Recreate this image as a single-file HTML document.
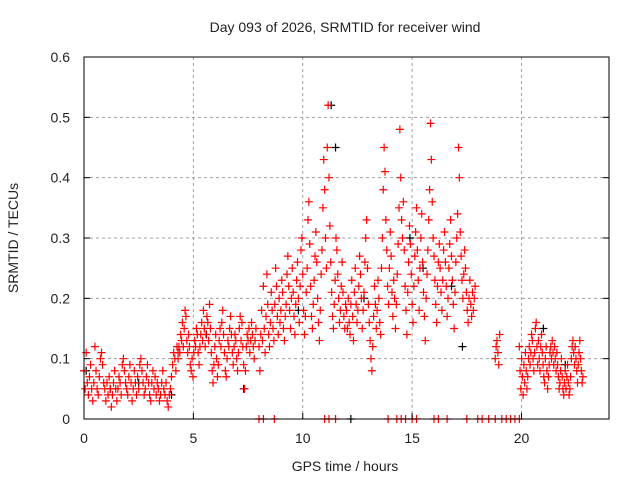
<!DOCTYPE html>
<html><head><meta charset="utf-8"><style>
body{margin:0;background:#fff;}
svg{display:block;font-family:"Liberation Sans",sans-serif;}
</style></head><body>
<svg id="chart" width="640" height="480">
<text x="345" y="32" text-anchor="middle" font-size="14" fill="#222">Day 093 of 2026, SRMTID for receiver wind</text>
<text x="345" y="471" text-anchor="middle" font-size="14" fill="#222">GPS time / hours</text>
<text transform="translate(18,238) rotate(-90)" text-anchor="middle" font-size="14" fill="#222">SRMTID / TECUs</text>
<g id="grid"></g><g id="marks"></g><g id="axes"></g>
</svg>
<script>
const xTicks=[0,5,10,15,20];
const yTicks=[0,0.1,0.2,0.3,0.4,0.5,0.6];
const yTickLabels=["0","0.1","0.2","0.3","0.4","0.5","0.6"];
const segStart=[0,4.3,8.0,9.8,12.0,13.6,18.8,19.9];
const segStep=[0.05,0.04,0.04,0.04,0.04,0.04,0.04,0.035];
const segA=[0.08,0.05,0.11,0.06,0.04,0.07,0.09,0.05,0.03,0.06,0.12,0.08,0.05,0.04,0.07,0.10,0.11,0.09,0.06,0.05,0.03,0.06,0.04,0.07,0.05,0.02,0.04,0.06,0.08,0.05,0.03,0.05,0.07,0.06,0.04,0.09,0.10,0.08,0.06,0.05,0.04,0.07,0.09,0.06,0.03,0.05,0.08,0.06,0.04,0.07,0.05,0.09,0.10,0.08,0.06,0.04,0.05,0.07,0.09,0.06,0.04,0.03,0.06,0.08,0.05,0.07,0.04,0.06,0.05,0.03,0.04,0.06,0.08,0.05,0.04,0.06,0.03,0.02,0.04,0.05,0.07,0.09,0.11,0.10,0.08,0.12,0.11];
const segB=[0.10,0.12,0.11,0.14,0.13,0.16,0.12,0.15,0.18,0.17,0.13,0.11,0.14,0.12,0.09,0.08,0.10,0.07,0.11,0.13,0.12,0.15,0.14,0.11,0.09,0.12,0.14,0.16,0.13,0.18,0.15,0.12,0.14,0.17,0.16,0.13,0.19,0.15,0.11,0.08,0.06,0.09,0.12,0.14,0.10,0.07,0.09,0.13,0.15,0.12,0.16,0.18,0.14,0.11,0.08,0.07,0.10,0.13,0.12,0.15,0.17,0.14,0.11,0.09,0.12,0.14,0.13,0.10,0.08,0.11,0.15,0.17,0.13,0.16,0.12,0.09,0.05,0.08,0.12,0.14,0.13,0.15,0.11,0.13,0.16,0.14,0.12,0.10,0.13,0.15];
const segC=[0.12,0.08,0.14,0.18,0.13,0.22,0.15,0.11,0.17,0.24,0.19,0.14,0.12,0.16,0.21,0.18,0.15,0.13,0.19,0.25,0.22,0.17,0.14,0.20,0.16,0.18,0.23,0.21,0.15,0.13,0.17,0.19,0.24,0.27,0.22,0.18,0.15,0.20,0.25,0.21,0.17,0.14,0.19,0.23,0.26];
const segD=[0.20,0.16,0.22,0.28,0.30,0.24,0.18,0.14,0.17,0.21,0.25,0.33,0.36,0.29,0.22,0.17,0.15,0.19,0.23,0.27,0.31,0.26,0.20,0.16,0.13,0.18,0.24,0.28,0.35,0.43,0.38,0.30,0.25,0.45,0.52,0.40,0.32,0.26,0.21,0.17,0.15,0.19,0.23,0.30,0.28,0.24,0.20,0.16,0.18,0.22,0.26,0.21,0.17,0.15,0.19];
const segE=[0.18,0.15,0.20,0.16,0.14,0.19,0.23,0.17,0.13,0.21,0.25,0.19,0.16,0.18,0.22,0.27,0.24,0.20,0.15,0.18,0.21,0.26,0.30,0.33,0.25,0.19,0.16,0.13,0.10,0.08,0.12,0.17,0.22,0.19,0.15,0.18,0.23,0.20,0.16,0.14];
const segF=[0.25,0.30,0.38,0.45,0.41,0.33,0.28,0.22,0.19,0.25,0.31,0.27,0.21,0.17,0.23,0.20,0.15,0.19,0.24,0.29,0.35,0.48,0.40,0.33,0.30,0.36,0.28,0.22,0.18,0.14,0.21,0.26,0.32,0.29,0.24,0.19,0.16,0.22,0.27,0.31,0.35,0.28,0.23,0.18,0.25,0.30,0.34,0.26,0.21,0.17,0.13,0.20,0.24,0.28,0.33,0.38,0.49,0.43,0.36,0.30,0.27,0.23,0.19,0.16,0.22,0.26,0.29,0.25,0.21,0.18,0.23,0.28,0.31,0.26,0.22,0.17,0.20,0.25,0.29,0.33,0.27,0.23,0.19,0.15,0.21,0.26,0.30,0.34,0.45,0.40,0.31,0.27,0.23,0.20,0.24,0.28,0.25,0.21,0.18,0.16,0.20,0.23,0.19,0.17,0.21,0.18,0.20,0.22];
const segG=[0.10,0.12,0.13,0.11,0.09,0.14];
const segH=[0.12,0.08,0.05,0.10,0.07,0.04,0.09,0.06,0.11,0.08,0.05,0.07,0.10,0.12,0.09,0.11,0.14,0.13,0.10,0.08,0.11,0.15,0.16,0.12,0.09,0.13,0.10,0.08,0.12,0.14,0.11,0.09,0.07,0.06,0.10,0.12,0.08,0.05,0.07,0.09,0.11,0.12,0.10,0.13,0.11,0.09,0.12,0.10,0.08,0.11,0.09,0.07,0.05,0.06,0.08,0.10,0.07,0.05,0.04,0.06,0.08,0.05,0.07,0.09,0.06,0.04,0.05,0.07,0.10,0.12,0.13,0.11,0.09,0.12,0.10,0.08,0.06,0.09,0.11,0.13,0.10,0.08,0.06,0.07];
const zeroT=[8.0,8.2,8.7,11.0,11.2,11.5,13.9,14.3,14.5,14.7,15.0,15.2,16.0,16.2,16.6,17.5,18.0,18.2,18.5,18.8,19.1,19.3,19.5,19.7,19.9];
const blackT=[0.1,1.2,2.5,4.0,5.6,7.3,9.8,11.3,11.5,12.8,14.9,15.5,16.8,17.3,21.0,22.0,12.2];
const blackV=[0.08,0.05,0.06,0.04,0.14,0.05,0.18,0.52,0.45,0.20,0.30,0.25,0.22,0.12,0.15,0.09,0];
const segs=[segA,segB,segC,segD,segE,segF,segG,segH];

const L=84,R=609,T=57,B=419,XMAX=24,YMAX=0.6;
const xs=v=>L+(v/XMAX)*(R-L);
const ys=v=>B-(v/YMAX)*(B-T);
const NS="http://www.w3.org/2000/svg";
function mk(tag,attrs,parent){const e=document.createElementNS(NS,tag);for(const k in attrs)e.setAttribute(k,attrs[k]);parent.appendChild(e);return e;}
const grid=document.getElementById('grid'),marks=document.getElementById('marks'),axes=document.getElementById('axes');
xTicks.forEach(t=>{
  if(t>0){const g=mk('line',{x1:xs(t),x2:xs(t),y1:T,y2:B,stroke:'#a0a0a0','stroke-dasharray':'3,3'},grid);
  
  }
  const tk=mk('line',{x1:xs(t),x2:xs(t),y1:B,y2:B-6,stroke:'#000'},axes);
  
  
  const lb=mk('text',{x:xs(t),y:B+24,'text-anchor':'middle','font-size':14,fill:'#222'},axes);
  lb.textContent=t;
  
  
});
yTicks.forEach((t,i)=>{
  if(t>0&&t<YMAX){const g=mk('line',{x1:L,x2:R,y1:ys(t),y2:ys(t),stroke:'#a0a0a0','stroke-dasharray':'3,3'},grid);
  
  }
  const tk=mk('line',{x1:L,x2:L+6,y1:ys(t),y2:ys(t),stroke:'#000'},axes);
  
  
  const tk2=mk('line',{x1:R,x2:R-6,y1:ys(t),y2:ys(t),stroke:'#000'},axes);
  
  
  const lb=mk('text',{x:L-14,y:ys(t)+5,'text-anchor':'end','font-size':14,fill:'#222'},axes);
  lb.textContent=yTickLabels[i];
  
  
});
const frame=mk('rect',{x:L,y:T,width:R-L,height:B-T,fill:'none',stroke:'#000'},axes);


function plus(t,v,col){
  const x=xs(t),y=ys(v);
  const p=mk('path',{d:`M${x-4},${y}H${x+4}M${x},${y-4}V${y+4}`,stroke:col,'stroke-width':1.2,fill:'none'},marks);
  
  
}
blackT.forEach((t,i)=>plus(t,blackV[i],'#000'));
segs.forEach((arr,s)=>arr.forEach((v,i)=>plus(segStart[s]+i*segStep[s],v,'#ff0000')));
zeroT.forEach(t=>plus(t,0,'#ff0000'));
</script>
</body></html>
